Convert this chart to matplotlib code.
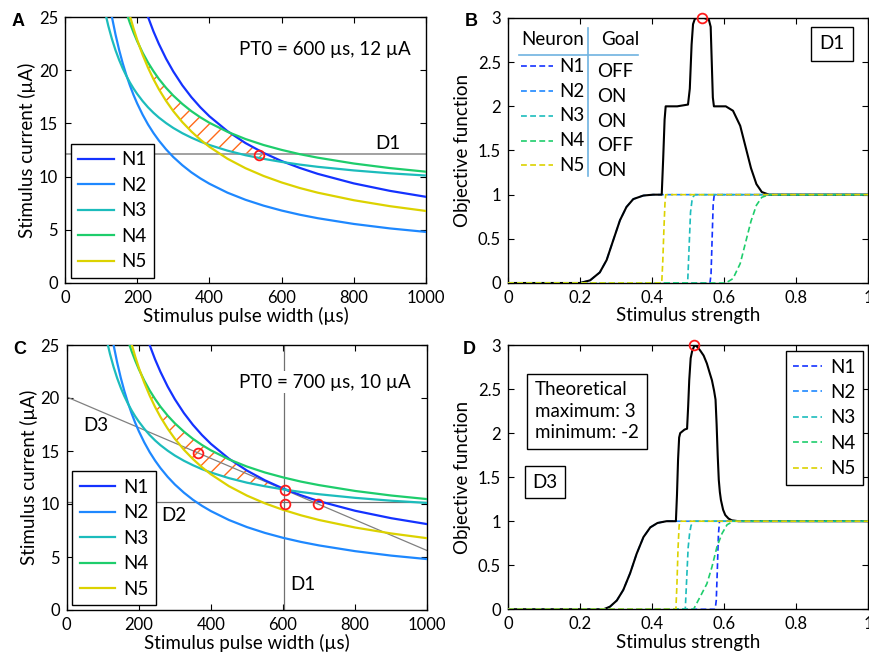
import matplotlib
matplotlib.use("Agg")
import matplotlib.pyplot as plt
import numpy as np
from matplotlib.lines import Line2D

plt.rcParams['font.family'] = ['Lato', 'DejaVu Sans']

# ---------------- data ----------------
neurons = ['N1', 'N2', 'N3', 'N4', 'N5']
goals = ['OFF', 'ON', 'ON', 'OFF', 'ON']
colors = ['#1432ff', '#1e88ff', '#1cbcbc', '#1ecd6c', '#dcd200']

# strength-duration curves (pulse width in us, threshold current in uA)
pw = [100, 110, 120, 130, 140, 150, 160, 170, 180, 190, 200, 215, 230, 245, 260,
      280, 300, 325, 350, 375, 400, 450, 500, 550, 600, 650, 700, 800, 900, 1000]
thr_n1 = [53.53, 48.94, 45.12, 41.88, 39.11, 36.70, 34.60, 32.74, 31.09, 29.62, 28.29,
          26.53, 25.00, 23.65, 22.47, 21.08, 19.88, 18.58, 17.47, 16.51, 15.67, 14.27,
          13.15, 12.23, 11.46, 10.82, 10.26, 9.36, 8.66, 8.10]
thr_n2 = [31.96, 29.22, 26.93, 25.00, 23.34, 21.90, 20.64, 19.53, 18.55, 17.66, 16.87,
          15.82, 14.90, 14.10, 13.39, 12.56, 11.84, 11.07, 10.40, 9.83, 9.33, 8.49,
          7.82, 7.27, 6.81, 6.42, 6.09, 5.55, 5.13, 4.80]
thr_n3 = [27.35, 25.61, 24.16, 22.93, 21.87, 20.96, 20.16, 19.46, 18.83, 18.27, 17.77,
          17.10, 16.51, 16.00, 15.55, 15.03, 14.57, 14.08, 13.66, 13.29, 12.97, 12.44,
          12.01, 11.67, 11.38, 11.13, 10.92, 10.58, 10.31, 10.10]
thr_n4 = [38.04, 35.25, 32.93, 30.97, 29.29, 27.83, 26.55, 25.42, 24.42, 23.53, 22.72,
          21.65, 20.72, 19.91, 19.18, 18.34, 17.61, 16.83, 16.15, 15.57, 15.06, 14.21,
          13.53, 12.97, 12.51, 12.11, 11.78, 11.23, 10.80, 10.46]
thr_n5 = [42.95, 39.30, 36.25, 33.67, 31.46, 29.55, 27.88, 26.40, 25.08, 23.91, 22.85,
          21.45, 20.23, 19.16, 18.21, 17.11, 16.15, 15.12, 14.24, 13.47, 12.80, 11.68,
          10.79, 10.06, 9.45, 8.93, 8.49, 7.78, 7.22, 6.77]
thresholds = [thr_n1, thr_n2, thr_n3, thr_n4, thr_n5]

# directions and optima, panel A
d1_current_A = 12.1
opt_A = (537, 12.05)
# directions and optima, panel C
d1_pw_C = 603
d2_current_C = 10.2
d3_pw = [0, 1000]
d3_current = [20.1, 5.6]
opt_C_pw = [365, 605, 605, 698]
opt_C_cur = [14.78, 11.33, 10.0, 10.0]

# panel B: activation along D1
b_n1_x = [0, 0.561, 0.564, 0.567, 0.570, 0.573, 1.0]
b_n1_y = [0, 0, 0.1, 0.5, 0.9, 1.0, 1.0]
b_n2_x = [0, 0.20, 0.228, 0.255, 0.274, 0.292, 0.311, 0.329, 0.348, 0.376, 0.403, 1.0]
b_n2_y = [0, 0, 0.03, 0.12, 0.26, 0.48, 0.71, 0.86, 0.95, 0.99, 1.0, 1.0]
b_n3_x = [0, 0.499, 0.503, 0.507, 0.511, 0.515, 0.519, 1.0]
b_n3_y = [0, 0, 0.4, 0.8, 0.93, 0.98, 1.0, 1.0]
b_n4_x = [0, 0.605, 0.625, 0.645, 0.660, 0.675, 0.690, 0.705, 0.725, 1.0]
b_n4_y = [0, 0, 0.05, 0.22, 0.46, 0.70, 0.88, 0.97, 1.0, 1.0]
b_n5_x = [0, 0.427, 0.430, 0.433, 0.436, 0.438, 1.0]
b_n5_y = [0, 0, 0.25, 0.6, 0.9, 1.0, 1.0]
b_obj_x = [0, 0.20, 0.228, 0.255, 0.274, 0.292, 0.311, 0.329, 0.348, 0.376, 0.403,
           0.427, 0.431, 0.435, 0.438, 0.47, 0.50, 0.505, 0.510, 0.514, 0.519, 0.525,
           0.545, 0.558, 0.563, 0.566, 0.569, 0.572, 0.605, 0.625, 0.645, 0.660, 0.675,
           0.690, 0.705, 0.725, 1.0]
b_obj_y = [0, 0, 0.03, 0.12, 0.26, 0.48, 0.71, 0.86, 0.95, 0.99, 1.0,
           1.0, 1.4, 1.85, 2.0, 2.0, 2.02, 2.2, 2.7, 2.93, 2.99, 3.0,
           3.0, 2.98, 2.9, 2.5, 2.1, 2.0, 2.0, 1.95, 1.78, 1.54, 1.30,
           1.12, 1.03, 1.0, 1.0]
b_opt = (0.538, 3.0)

# panel D: activation along D3
d_n1_x = [0, 0.575, 0.578, 0.581, 0.584, 0.587, 1.0]
d_n1_y = [0, 0, 0.1, 0.45, 0.85, 1.0, 1.0]
d_n2_x = [0, 0.265, 0.283, 0.302, 0.320, 0.339, 0.357, 0.376, 0.395, 0.415, 0.44, 1.0]
d_n2_y = [0, 0, 0.03, 0.10, 0.22, 0.41, 0.63, 0.82, 0.93, 0.98, 1.0, 1.0]
d_n3_x = [0, 0.492, 0.496, 0.500, 0.504, 0.508, 0.515, 1.0]
d_n3_y = [0, 0, 0.35, 0.7, 0.86, 0.95, 1.0, 1.0]
d_n4_x = [0, 0.515, 0.533, 0.552, 0.566, 0.580, 0.594, 0.608, 0.626, 1.0]
d_n4_y = [0, 0, 0.14, 0.29, 0.48, 0.71, 0.86, 0.96, 1.0, 1.0]
d_n5_x = [0, 0.466, 0.469, 0.472, 0.475, 0.477, 1.0]
d_n5_y = [0, 0, 0.3, 0.7, 0.95, 1.0, 1.0]
d_obj_x = [0, 0.265, 0.283, 0.302, 0.320, 0.339, 0.357, 0.376, 0.395, 0.415, 0.44,
           0.466, 0.469, 0.472, 0.475, 0.478, 0.490, 0.497, 0.500, 0.503, 0.507, 0.511,
           0.518, 0.525, 0.533, 0.543, 0.552, 0.560, 0.566, 0.572, 0.576, 0.579, 0.582,
           0.585, 0.588, 0.591, 0.597, 0.603, 0.612, 0.621, 0.64, 1.0]
d_obj_y = [0, 0, 0.03, 0.10, 0.22, 0.41, 0.63, 0.82, 0.93, 0.98, 1.0,
           1.0, 1.3, 1.7, 1.95, 2.0, 2.04, 2.05, 2.3, 2.6, 2.85, 2.93,
           3.0, 2.98, 2.94, 2.88, 2.79, 2.68, 2.6, 2.48, 2.38, 2.1, 1.75,
           1.47, 1.33, 1.24, 1.13, 1.07, 1.03, 1.01, 1.0, 1.0]
d_opt = (0.517, 3.0)

# ---------------- figure ----------------
W, H = 869, 657
fig = plt.figure(figsize=(W / 100, H / 100), dpi=100)


def add_axes_px(left, top, right, bottom):
    return fig.add_axes([left / W, 1 - bottom / H, (right - left) / W, (bottom - top) / H])


axA = add_axes_px(65, 17, 426, 283)
axB = add_axes_px(508, 18, 868, 283)
axC = add_axes_px(66.7, 345, 427.3, 610)
axD = add_axes_px(508, 345, 868.3, 609.3)

TICK_FS = 12
LAB_FS = 13.5
TXT_FS = 13.5
DASH = (0, (3.5, 2))


def style(ax):
    ax.tick_params(direction='in', top=True, right=True, length=4, width=0.8,
                   labelsize=TICK_FS, pad=5)
    for s in ax.spines.values():
        s.set_linewidth(1.0)


def sd_panel(ax):
    x = np.array(pw, dtype=float)
    lower = np.maximum(np.array(thr_n3), np.array(thr_n5))
    upper = np.minimum(np.array(thr_n1), np.array(thr_n4))
    upper = np.minimum(upper, 25)
    ax.fill_between(x, lower, upper, where=upper > lower, interpolate=True,
                    facecolor='none', edgecolor='#ff6a1a', hatch='//', linewidth=0,
                    zorder=1)
    for name, c, t in zip(neurons, colors, thresholds):
        ax.plot(pw, t, color=c, lw=1.6, label=name, zorder=3)
    ax.set_xlim(0, 1000)
    ax.set_ylim(0, 25)
    ax.set_xticks(range(0, 1001, 200))
    ax.set_yticks(range(0, 26, 5))
    ax.set_xlabel('Stimulus pulse width (\u00b5s)', fontsize=LAB_FS, labelpad=1)
    ax.set_ylabel('Stimulus current (\u00b5A)', fontsize=LAB_FS, labelpad=2)
    style(ax)


plt.rcParams['hatch.linewidth'] = 1.0


def sd_legend(ax, anchor):
    leg = ax.legend(loc='lower left', bbox_to_anchor=anchor, borderaxespad=0,
                    fontsize=TXT_FS, fancybox=False, edgecolor='black', framealpha=1,
                    handlelength=1.9, handletextpad=0.4, labelspacing=0.45,
                    borderpad=0.4)
    leg.get_frame().set_linewidth(1.0)
    leg.set_zorder(10)


# ----- panel A -----
sd_panel(axA)
axA.axhline(d1_current_A, color='#9a9a9a', lw=1.3, zorder=2)
axA.plot([opt_A[0]], [opt_A[1]], 'o', ms=7, mfc='none', mec='#ff1a1a', mew=1.3, zorder=5)
axA.text(482, 21.9, 'PT0 = 600 \u00b5s, 12 \u00b5A', fontsize=TXT_FS, va='center', ha='left')
axA.text(859, 13.15, 'D1', fontsize=TXT_FS, va='center', ha='left')
sd_legend(axA, (0.016, 0.02))

# ----- panel C -----
sd_panel(axC)
axC.axvline(d1_pw_C, color='#707070', lw=0.9, zorder=2)
axC.axhline(d2_current_C, color='#707070', lw=0.9, zorder=2)
axC.plot(d3_pw, d3_current, color='#808080', lw=0.9, zorder=2)
axC.plot(opt_C_pw, opt_C_cur, 'o', ls='none', ms=7, mfc='none', mec='#ff1a1a',
         mew=1.3, zorder=5)
axC.text(478, 21.5, 'PT0 = 700 \u00b5s, 10 \u00b5A', fontsize=TXT_FS, va='center',
         ha='left', zorder=6,
         bbox=dict(facecolor='white', edgecolor='none', boxstyle='square,pad=0.15'))
axC.text(46, 17.4, 'D3', fontsize=TXT_FS, va='center', ha='left')
axC.text(263, 8.95, 'D2', fontsize=TXT_FS, va='center', ha='left')
axC.text(620, 2.4, 'D1', fontsize=TXT_FS, va='center', ha='left')
sd_legend(axC, (0.0155, 0.018))


# ----- objective panels -----
def obj_panel(ax, nx, ny, ox, oy, opt):
    # N2 below the objective curve, others above it
    ax.plot(nx[1], ny[1], color=colors[1], lw=1.2, ls=DASH, zorder=2)
    ax.plot(ox, oy, color='black', lw=1.5, zorder=3)
    for i in [0, 2, 3, 4]:
        ax.plot(nx[i], ny[i], color=colors[i], lw=1.2, ls=DASH, zorder=4)
    ax.plot([opt[0]], [opt[1]], 'o', ms=7, mfc='none', mec='#ff1a1a', mew=1.3,
            zorder=6, clip_on=False)
    ax.set_xlim(0, 1)
    ax.set_ylim(0, 3)
    ax.set_xticks([0, 0.2, 0.4, 0.6, 0.8, 1.0])
    ax.set_xticklabels(['0', '0.2', '0.4', '0.6', '0.8', '1'])
    ax.set_yticks([0, 0.5, 1, 1.5, 2, 2.5, 3])
    ax.set_yticklabels(['0', '0.5', '1', '1.5', '2', '2.5', '3'])
    ax.set_xlabel('Stimulus strength', fontsize=LAB_FS, labelpad=1)
    ax.set_ylabel('Objective function', fontsize=LAB_FS, labelpad=5)
    style(ax)


obj_panel(axB, [b_n1_x, b_n2_x, b_n3_x, b_n4_x, b_n5_x],
          [b_n1_y, b_n2_y, b_n3_y, b_n4_y, b_n5_y], b_obj_x, b_obj_y, b_opt)
obj_panel(axD, [d_n1_x, d_n2_x, d_n3_x, d_n4_x, d_n5_x],
          [d_n1_y, d_n2_y, d_n3_y, d_n4_y, d_n5_y], d_obj_x, d_obj_y, d_opt)

# table-style legend in panel B
tb = axB.transAxes
rule_c = '#6fb3e0'
axB.plot([0.031, 0.361], [0.860, 0.860], color=rule_c, lw=1.2, transform=tb, clip_on=False)
axB.plot([0.221, 0.221], [0.404, 0.962], color=rule_c, lw=1.2, transform=tb, clip_on=False)
axB.text(0.125, 0.917, 'Neuron', fontsize=TXT_FS, ha='center', va='center', transform=tb)
axB.text(0.311, 0.917, 'Goal', fontsize=TXT_FS, ha='center', va='center', transform=tb)
for i, (name, goal, c) in enumerate(zip(neurons, goals, colors)):
    y = 0.818 - i * 0.0935
    axB.plot([0.036, 0.125], [y, y], color=c, lw=1.2, ls=DASH, transform=tb)
    axB.text(0.142, y, name, fontsize=TXT_FS, ha='left', va='center', transform=tb)
    axB.text(0.247, y - 0.02, goal, fontsize=TXT_FS, ha='left', va='center', transform=tb)
axB.text(0.9, 0.902, 'D1', fontsize=TXT_FS, ha='center', va='center', transform=tb,
         bbox=dict(facecolor='white', edgecolor='black', lw=1.0, boxstyle='square,pad=0.45'))

# panel D annotations
td = axD.transAxes
axD.text(0.075, 0.862, 'Theoretical\nmaximum: 3\nminimum: -2', fontsize=TXT_FS,
         ha='left', va='top', transform=td, linespacing=1.3,
         bbox=dict(facecolor='white', edgecolor='black', lw=1.0, boxstyle='square,pad=0.42'))
axD.text(0.103, 0.48, 'D3', fontsize=TXT_FS, ha='center', va='center', transform=td,
         bbox=dict(facecolor='white', edgecolor='black', lw=1.0, boxstyle='square,pad=0.4'))
hD = [Line2D([], [], color=c, lw=1.2, ls=DASH) for c in colors]
legD = axD.legend(hD, neurons, loc='upper right', bbox_to_anchor=(0.985, 0.977),
                  borderaxespad=0, fontsize=TXT_FS, fancybox=False, edgecolor='black',
                  framealpha=1, handlelength=1.5, handletextpad=0.45, labelspacing=0.45,
                  borderpad=0.4)
legD.get_frame().set_linewidth(1.0)

# panel letters
for letter, (px, py) in zip('ABCD', [(12, 22), (465, 22), (13, 350), (463, 350)]):
    fig.text(px / W, 1 - py / H, letter, fontsize=13, fontweight='bold',
             family='Liberation Sans', ha='left', va='center')

fig.savefig('out.png', dpi=100)
